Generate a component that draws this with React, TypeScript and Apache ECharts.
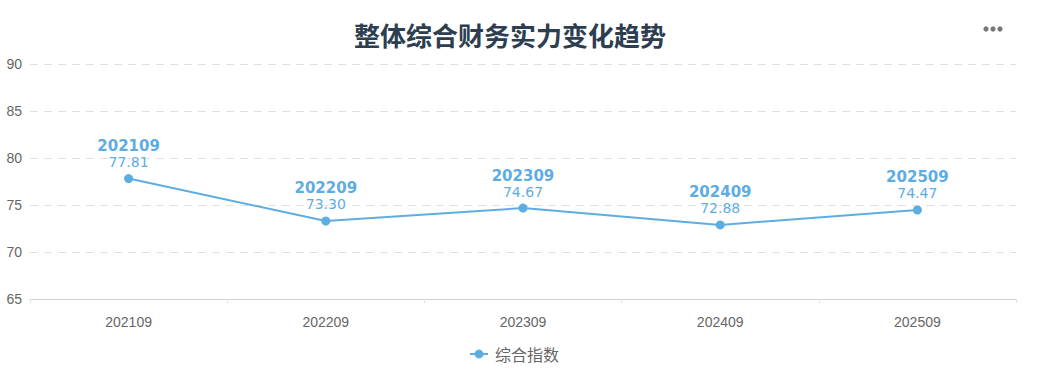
import React, { useEffect, useRef } from "react";
import * as echarts from "echarts";

const categories = ["202109", "202209", "202309", "202409", "202509"];
const values = [77.81, 73.3, 74.67, 72.88, 74.47];
const seriesName = "综合指数";
const titleText = "整体综合财务实力变化趋势";

export default function App() {
  const ref = useRef<HTMLDivElement>(null);
  useEffect(() => {
    document.body.style.margin = "0";
    if (!ref.current) return;
    const chart = echarts.init(ref.current, undefined, { renderer: "svg" });
    const color = "#5dade2";
    chart.setOption({
      animation: false,
      title: {
        text: titleText,
        left: 349,
        top: 16,
        textStyle: { fontSize: 26, fontWeight: "bold", color: "#2c3e50", fontFamily: "Noto Sans CJK SC" },
      },
      graphic: [
        { type: "circle", shape: { cx: 986, cy: 29, r: 2.6 }, style: { fill: "#777" } },
        { type: "circle", shape: { cx: 993, cy: 29, r: 2.6 }, style: { fill: "#777" } },
        { type: "circle", shape: { cx: 1000, cy: 29, r: 2.6 }, style: { fill: "#777" } },
      ],
      legend: {
        bottom: 8,
        left: 464,
        data: [seriesName],
        itemWidth: 18,
        itemHeight: 11,
        itemGap: 6,
        textStyle: { color: "#666", fontSize: 16, fontFamily: "Noto Sans CJK SC", padding: [0, 0, 0, 2] },
      },
      grid: { left: 30, right: 22, top: 64, bottom: 76, containLabel: false },
      xAxis: {
        type: "category",
        data: categories,
        boundaryGap: true,
        axisLine: { lineStyle: { color: "#d0d0d0", width: 1 } },
        axisTick: { show: true, length: 4, lineStyle: { color: "#e0e0e0" } },
        axisLabel: { color: "#666", fontSize: 14, margin: 16 },
      },
      yAxis: {
        type: "value",
        min: 65,
        max: 90,
        interval: 5,
        axisLine: { show: false },
        axisTick: { show: false },
        axisLabel: { color: "#666", fontSize: 14, margin: 8 },
        splitLine: { lineStyle: { color: "#e0e0e0", type: [8, 6] } },
      },
      series: [
        {
          name: seriesName,
          type: "line",
          data: values,
          symbol: "circle",
          symbolSize: 9,
          itemStyle: { color },
          lineStyle: { color, width: 2 },
          label: {
            show: true,
            position: "top",
            distance: 4,
            formatter: (p: any) => `{a|${categories[p.dataIndex]}}\n{b|${Number(p.value).toFixed(2)}}`,
            rich: {
              a: { fontSize: 15, fontWeight: "bold", color, fontFamily: "DejaVu Sans", lineHeight: 16, textBorderColor: "#fff", textBorderWidth: 2 },
              b: { fontSize: 14, color, fontFamily: "DejaVu Sans", lineHeight: 16, textBorderColor: "#fff", textBorderWidth: 2 },
            },
          },
        },
      ],
    });
    return () => chart.dispose();
  }, []);
  return <div ref={ref} style={{ width: 1038, height: 375 }} />;
}
